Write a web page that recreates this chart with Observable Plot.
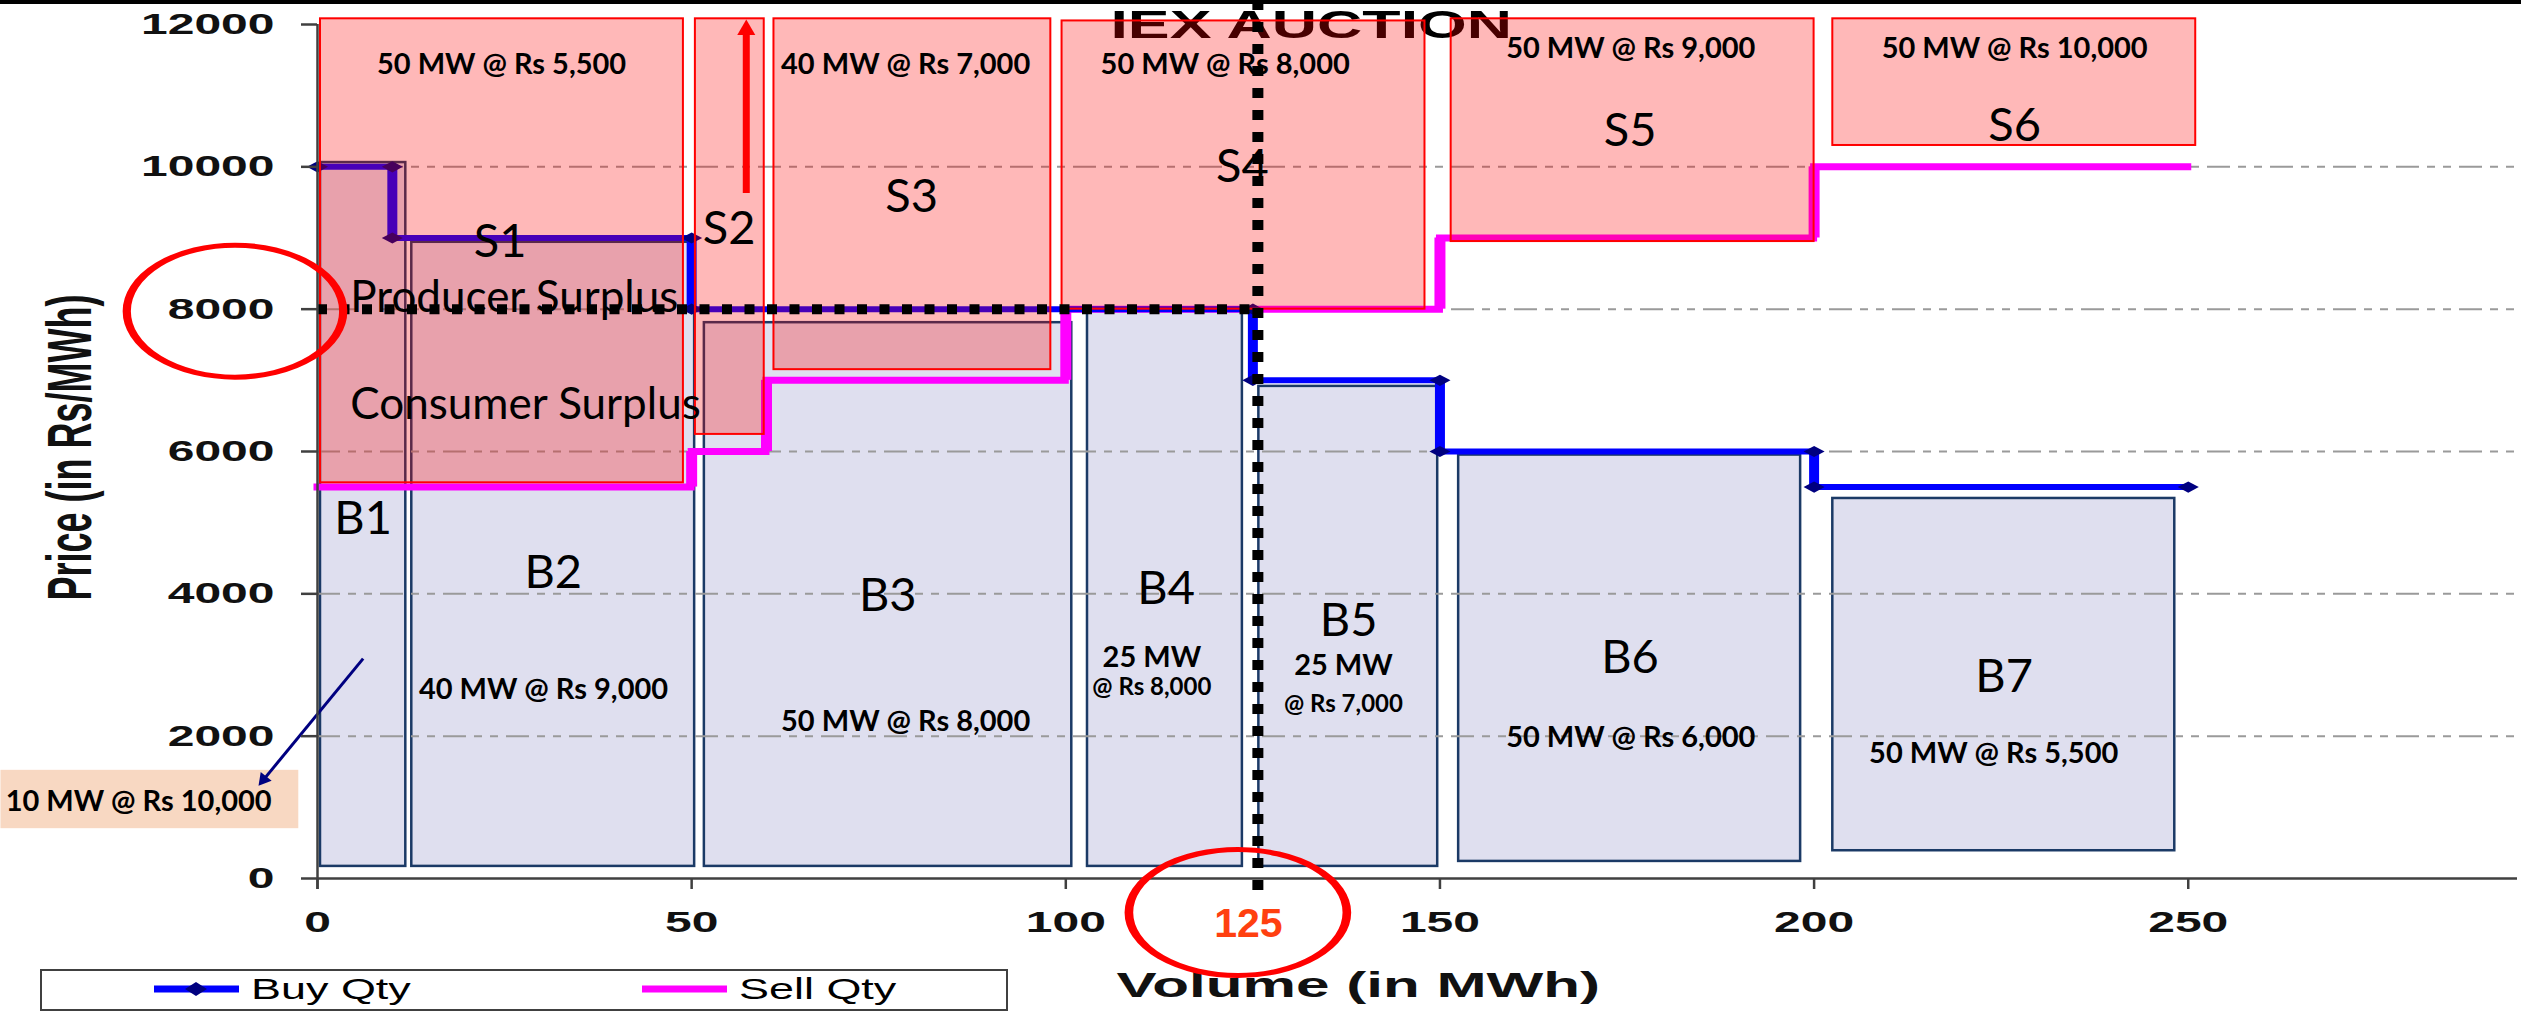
<!DOCTYPE html>
<html>
<head>
<meta charset="utf-8">
<script src="https://cdn.jsdelivr.net/npm/d3@7"></script>
<script src="https://cdn.jsdelivr.net/npm/@observablehq/plot@0.6"></script>
<style>
  html, body { margin: 0; padding: 0; background: #fff; }
  #wrap { position: relative; width: 2521px; height: 1016px; overflow: hidden; background: #fff; }
  #topbar { position: absolute; left: 0; top: 0; width: 2521px; height: 4px; background: #000; }
  #legend { position: absolute; left: 40px; top: 969px; }
</style>
</head>
<body>
<div id="wrap"></div>
<script>
// ---------------- data ----------------
const xTicks = [0, 50, 100, 150, 200, 250];
const yTicks = [0, 2000, 4000, 6000, 8000, 10000, 12000];
const gridPrices = [2000, 4000, 6000, 8000, 10000];

// cumulative volume break points (MWh) and step prices (Rs/MWh)
const buyBreaks = [0, 10, 50, 125, 150, 200, 250];
const buyPrices = [10000, 9000, 8000, 7000, 6000, 5500];
const sellBreaks = [0, 50, 60, 100, 150, 200, 250];
const sellPrices = [5500, 6000, 7000, 8000, 9000, 10000];

const clearVolume = 125;
const clearPrice = 8000;

// bid boxes
const buyBoxNames = ["B1", "B2", "B3", "B4", "B5", "B6", "B7"];
const buyBoxX1 = [0.4, 12.6, 51.7, 102.9, 125.8, 152.5, 202.5];
const buyBoxX2 = [11.8, 50.4, 100.8, 123.6, 149.7, 198.2, 248.2];
const buyBoxTop = [10060, 8940, 7810, 7990, 6915, 5950, 5340];
const buyBoxBottom = [170, 170, 170, 170, 170, 240, 390];

// offer boxes
const sellBoxNames = ["S1", "S2", "S3", "S4", "S5", "S6"];
const sellBoxX1 = [0.4, 50.5, 61, 99.5, 151.5, 202.5];
const sellBoxX2 = [48.9, 59.7, 98, 148, 200, 251];
const sellBoxTop = [12080, 12080, 12080, 12050, 12080, 12080];
const sellBoxBottom = [5560, 6240, 7150, 8000, 8950, 10300];

// box names placement
const boxLabelText = ["S1", "S2", "S3", "S4", "S5", "S6", "B1", "B2", "B3", "B4", "B5", "B6", "B7"];
const boxLabelX = [24.4, 55, 79.4, 123.6, 175.4, 226.8, 6.1, 31.5, 76.2, 113.4, 137.8, 175.4, 225.4];
const boxLabelY = [8940, 9130, 9580, 10000, 10500, 10570, 5050, 4300, 3976, 4075, 3620, 3105, 2838];

// surplus annotations
const surplusText = ["Producer Surplus", "Consumer Surplus"];
const surplusX = [26.3, 27.8];
const surplusY = [8165, 6660];

// quantity @ price annotations
const qtyText = ["50 MW @ Rs 5,500", "40 MW @ Rs 7,000", "50 MW @ Rs 8,000", "50 MW @ Rs 9,000", "50 MW @ Rs 10,000",
                 "40 MW @ Rs 9,000", "50 MW @ Rs 8,000", "25 MW", "25 MW", "50 MW @ Rs 6,000", "50 MW @ Rs 5,500", "10 MW @ Rs 10,000"];
const qtyX = [24.6, 78.6, 121.3, 175.5, 226.8, 30.2, 78.6, 111.5, 137.1, 175.5, 224, -23.9];
const qtyY = [11440, 11440, 11440, 11660, 11660, 2655, 2206, 3105, 2985, 1981, 1756, 1082];
const priceText = ["@ Rs 8,000", "@ Rs 7,000"];
const priceX = [111.5, 137.1];
const priceY = [2683, 2445];

// callout box for B1 and arrows
const calloutX = [-42.3, -2.5];
const calloutY = [700, 1520];
const navyArrowX = [6.1, -7.2];
const navyArrowY = [3090, 1390];
const redArrowX = [57.3];
const redArrowY = [9625, 11924];

const auctionTitle = ["IEX AUCTION"];
const auctionX = [132.8];
const auctionY = [11978];

const xLabel = "Volume (in MWh)";
const yLabel = "Price (in Rs/MWh)";

// ---------------- derived tables ----------------
function steps(breaks, prices) {
  const h = prices.map((p, i) => ({x1: breaks[i], x2: breaks[i + 1], y: p}));
  const v = prices.slice(1).map((p, i) => ({x: breaks[i + 1], y1: prices[i], y2: p}));
  const pts = [];
  prices.forEach((p, i) => { pts.push({x: breaks[i], y: p}); pts.push({x: breaks[i + 1], y: p}); });
  return {h, v, pts};
}
const buy = steps(buyBreaks, buyPrices);
const sell = steps(sellBreaks, sellPrices);

const buyBoxes = buyBoxNames.map((n, i) => ({name: n, x1: buyBoxX1[i], x2: buyBoxX2[i], y1: buyBoxBottom[i], y2: buyBoxTop[i]}));
const sellBoxes = sellBoxNames.map((n, i) => ({name: n, x1: sellBoxX1[i], x2: sellBoxX2[i], y1: sellBoxBottom[i], y2: sellBoxTop[i]}));
const boxLabels = boxLabelText.map((t, i) => ({t, x: boxLabelX[i], y: boxLabelY[i]}));
const surplus = surplusText.map((t, i) => ({t, x: surplusX[i], y: surplusY[i]}));
const qty = qtyText.map((t, i) => ({t, x: qtyX[i], y: qtyY[i]}));
const prices = priceText.map((t, i) => ({t, x: priceX[i], y: priceY[i]}));

const CAL = "Lato, 'Noto Sans', sans-serif";
const ARIAL = "'Liberation Sans', Arial, sans-serif";
const tag = name => () => name;

const W = 2521, H = 1016;

const chart = Plot.plot({
  width: W,
  height: H,
  marginLeft: 317,
  marginRight: 4,
  marginTop: 24,
  marginBottom: 138,
  x: {domain: [0, 294], axis: null},
  y: {domain: [0, 12000], axis: null},
  style: {background: "transparent", overflow: "visible"},
  marks: [
    // bid boxes
    Plot.rect(buyBoxes, {x1: "x1", x2: "x2", y1: "y1", y2: "y2", fill: "#dfdfef", stroke: "#1b3a66", strokeWidth: 2.5}),
    // grid
    Plot.ruleY(gridPrices, {stroke: "#9a9a9a", strokeWidth: 2, strokeDasharray: "23 8 8 8 8 8"}),
    // sell curve
    Plot.ruleY(sell.h, {x1: "x1", x2: "x2", y: "y", stroke: "#ff00ff", strokeWidth: 7, strokeLinecap: "square"}),
    Plot.ruleX(sell.v, {x: "x", y1: "y1", y2: "y2", stroke: "#ff00ff", strokeWidth: 11}),
    // buy curve
    Plot.ruleY(buy.h, {x1: "x1", x2: "x2", y: "y", stroke: "#0000ff", strokeWidth: 6, strokeLinecap: "square"}),
    Plot.ruleX(buy.v, {x: "x", y1: "y1", y2: "y2", stroke: "#0000ff", strokeWidth: 10}),
    Plot.dot(buy.pts, {x: "x", y: "y", symbol: "diamond2", r: 5, fill: "#000080", stroke: "none", ariaLabel: tag("buy-markers")}),
    // title under the offer boxes
    Plot.text(auctionTitle, {x: (d, i) => auctionX[i], y: (d, i) => auctionY[i], text: d => d, fontFamily: ARIAL, fontWeight: "bold", fontSize: 38, fill: "#000", ariaLabel: tag("auction-title")}),
    // offer boxes
    Plot.rect(sellBoxes, {x1: "x1", x2: "x2", y1: "y1", y2: "y2", fill: "#ff0000", fillOpacity: 0.28, stroke: "#ff0000", strokeWidth: 2}),
    // red up arrow in S2
    Plot.ruleX(redArrowX, {x: d => d, y1: () => redArrowY[0], y2: () => redArrowY[1], stroke: "#ff0000", strokeWidth: 7}),
    Plot.dot(redArrowX, {x: d => d, y: () => redArrowY[1], symbol: "triangle", r: 6.7, fill: "#ff0000", stroke: "none"}),
    // labels
    Plot.text(boxLabels, {x: "x", y: "y", text: "t", fontFamily: CAL, fontSize: 47, fill: "#000"}),
    Plot.text(surplus, {x: "x", y: "y", text: "t", fontFamily: CAL, fontSize: 44, fill: "#000"}),
    // callout box
    Plot.rect([0], {x1: () => calloutX[0], x2: () => calloutX[1], y1: () => calloutY[0], y2: () => calloutY[1], fill: "#f8d8c2"}),
    Plot.text(qty, {x: "x", y: "y", text: "t", fontFamily: CAL, fontWeight: "bold", fontSize: 29, fill: "#000"}),
    Plot.text(prices, {x: "x", y: "y", text: "t", fontFamily: CAL, fontWeight: "bold", fontSize: 24, fill: "#000"}),
    // navy arrow to callout
    Plot.link([0], {x1: () => navyArrowX[0], y1: () => navyArrowY[0], x2: () => navyArrowX[1], y2: () => navyArrowY[1], stroke: "#000080", strokeWidth: 3}),
    Plot.dot([0], {x: () => navyArrowX[1], y: () => navyArrowY[1], symbol: "triangle", r: 5.2, fill: "#000080", stroke: "none", ariaLabel: tag("navy-head")}),
    // equilibrium lines
    Plot.ruleY([clearPrice], {x1: 0, x2: clearVolume, stroke: "#000", strokeWidth: 10, strokeDasharray: "10 12.5"}),
    Plot.ruleX([clearVolume], {dx: 5, insetTop: -24, insetBottom: -19, stroke: "#000", strokeWidth: 11, strokeDasharray: "10 12"}),
    // axes
    Plot.ruleY([0], {stroke: "#404040", strokeWidth: 2.5}),
    Plot.ruleX([0], {insetBottom: -11, stroke: "#404040", strokeWidth: 2.5}),
    Plot.ruleY(yTicks, {x1: 0, x2: 0, insetLeft: -16, stroke: "#404040", strokeWidth: 2.5}),
    Plot.ruleX(xTicks, {y1: 0, y2: 0, insetBottom: -11, stroke: "#404040", strokeWidth: 2.5}),
    Plot.text(yTicks, {x: 0, y: d => d, text: d => String(d), textAnchor: "end", dx: -43, fontFamily: ARIAL, fontWeight: "bold", fontSize: 30, fill: "#111", ariaLabel: tag("y-ticks")}),
    Plot.text(xTicks, {x: d => d, y: 0, text: d => String(d), dy: 44, fontFamily: ARIAL, fontWeight: "bold", fontSize: 30, fill: "#111", ariaLabel: tag("x-ticks")}),
    Plot.text([xLabel], {x: 139.1, y: 0, text: d => d, dy: 107, fontFamily: ARIAL, fontWeight: "bold", fontSize: 35, fill: "#111", ariaLabel: tag("x-title")}),
    Plot.text([yLabel], {frameAnchor: "left", textAnchor: "middle", text: d => d, dx: -247, dy: -4, rotate: -90, fontFamily: ARIAL, fontWeight: "bold", fontSize: 36, fill: "#111", ariaLabel: tag("y-title")}),
    // highlight ellipses
    Plot.dot([clearPrice], {x: 0, y: d => d, dx: -82.5, dy: 2, r: 66, fill: "none", stroke: "#ff0000", strokeWidth: 5, ariaLabel: tag("ellipse-price")}),
    Plot.dot([clearVolume], {x: d => d, y: 0, dx: -15, dy: 34, r: 63, fill: "none", stroke: "#ff0000", strokeWidth: 5, ariaLabel: tag("ellipse-volume")}),
    Plot.text([clearVolume], {x: d => d, y: 0, text: d => String(d), dx: -4.5, dy: 45, fontFamily: ARIAL, fontWeight: "bold", fontSize: 41, fill: "#ff4010"})
  ]
});

const wrap = document.getElementById("wrap");
chart.style.position = "absolute";
chart.style.left = "0px";
chart.style.top = "0px";
chart.style.maxWidth = "none";
wrap.appendChild(chart);

// ---------------- presentation tweaks (the original is stretched horizontally) ----------------
const SVGNS = "http://www.w3.org/2000/svg";
function tagged(label) {
  return Array.from(chart.querySelectorAll(`[aria-label="${label}"]`));
}
// wrap an element in a <g> that scales it about a screen-space anchor point
function scaleAbout(el, sx, sy, anchor) {
  const r = el.getBoundingClientRect();
  const sxp = anchor === "end" ? r.right : anchor === "start" ? r.left : (r.left + r.right) / 2;
  const syp = (r.top + r.bottom) / 2;
  const pt = chart.createSVGPoint();
  pt.x = sxp; pt.y = syp;
  const local = pt.matrixTransform(el.parentNode.getScreenCTM().inverse());
  const g = document.createElementNS(SVGNS, "g");
  g.setAttribute("transform", `translate(${local.x},${local.y}) scale(${sx},${sy}) translate(${-local.x},${-local.y})`);
  el.parentNode.insertBefore(g, el);
  g.appendChild(el);
}
function stretchTagged(label, sx, sy, anchor) {
  tagged(label).forEach(el => scaleAbout(el, sx, sy, anchor));
}
stretchTagged("y-ticks", 1.6, 1, "end");
stretchTagged("x-ticks", 1.6, 1, "middle");
stretchTagged("x-title", 1.72, 1, "middle");
stretchTagged("y-title", 1.75, 1, "middle");
stretchTagged("auction-title", 1.65, 1, "middle");
stretchTagged("ellipse-price", 1.64, 1, "middle");
stretchTagged("ellipse-volume", 1.73, 1, "middle");
stretchTagged("buy-markers", 1.9, 1, "middle");

tagged("navy-head").forEach(p => {
  const tr = p.getAttribute("transform") || "";
  p.setAttribute("transform", (tr + " rotate(219)").trim());
});

const bar = document.createElement("div");
bar.id = "topbar";
wrap.appendChild(bar);

// ---------------- legend ----------------
const legendItems = ["Buy Qty", "Sell Qty"];
const legendColors = ["#0000ff", "#ff00ff"];
const leg = d3.create("svg").attr("id", "legend").attr("width", 968).attr("height", 42);
leg.append("rect").attr("x", 1).attr("y", 1).attr("width", 966).attr("height", 40)
  .attr("fill", "#fff").attr("stroke", "#404040").attr("stroke-width", 2);
const itemX = [114, 602];
legendItems.forEach((name, i) => {
  const g = leg.append("g").attr("transform", `translate(${itemX[i]},0)`);
  g.append("line").attr("x1", 0).attr("x2", 85).attr("y1", 20).attr("y2", 20)
    .attr("stroke", legendColors[i]).attr("stroke-width", 7);
  if (i === 0) {
    g.append("path").attr("d", "M42,13 L53,20 L42,27 L31,20 Z").attr("fill", "#000080");
  }
  g.append("text").attr("transform", "translate(97,30) scale(1.55,1)")
    .attr("font-family", ARIAL).attr("font-size", 29).attr("fill", "#000").text(name);
});
wrap.appendChild(leg.node());
</script>
</body>
</html>
